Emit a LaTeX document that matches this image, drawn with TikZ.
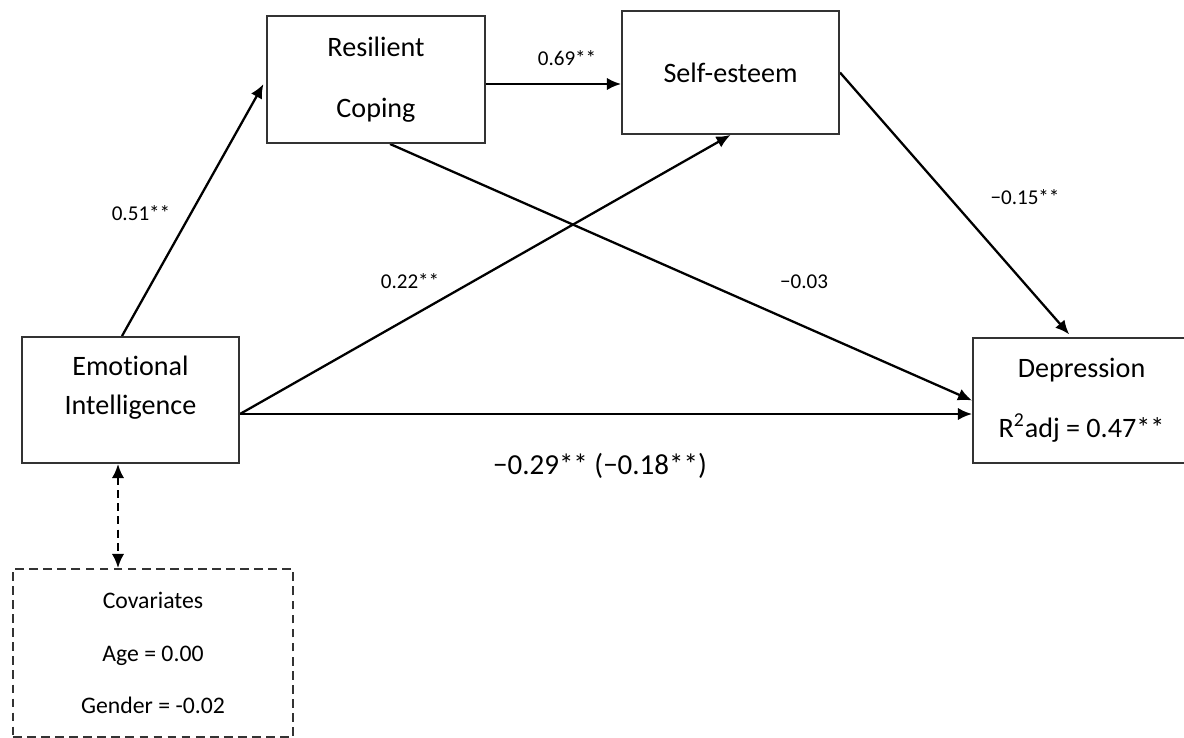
\documentclass[tikz,border=0pt]{standalone}
\usepackage{fontspec}
\setmainfont{Carlito}[Ligatures=NoCommon]
\usepackage{tikz}
\usetikzlibrary{arrows.meta,backgrounds}
\pgfdeclarelayer{edgelayer}
\pgfdeclarelayer{nodelayer}
\pgfsetlayers{edgelayer,nodelayer,main}
\tikzstyle{none}=[inner sep=0pt]
\tikzstyle{varbox}=[rectangle,draw=black!80,line width=1.1pt,align=center,font=\fontsize{16}{19}\selectfont]
\tikzstyle{covbox}=[rectangle,draw=black!80,line width=1.1pt,dash pattern=on 5pt off 3pt,align=center,font=\fontsize{13.5}{16}\selectfont]
\tikzstyle{coef}=[inner sep=0pt,font=\fontsize{12}{14}\selectfont]
\tikzstyle{bigcoef}=[inner sep=0pt,font=\fontsize{16.5}{19}\selectfont]
\tikzstyle{inarrow}=[->, >={Latex[length=8pt,width=7pt]}, line width=1.3pt]
\tikzstyle{covarrow}=[<->, >={Latex[length=8pt,width=7pt]}, line width=1.3pt, dash pattern=on 4.5pt off 3pt]

\begin{document}
\begin{tikzpicture}
	\useasboundingbox (0, 0) rectangle (23.68, -14.76);
	\begin{pgfonlayer}{nodelayer}
		\node [style=varbox, minimum width=4.34cm, minimum height=2.52cm, text depth=17pt] (0) at (2.61, -8.00) {Emotional\\[3pt]Intelligence};
		\node [style=varbox, minimum width=4.36cm, minimum height=2.54cm] (1) at (7.52, -1.59) {Resilient\\[16pt]Coping};
		\node [style=varbox, minimum width=4.34cm, minimum height=2.46cm] (2) at (14.61, -1.45) {Self-esteem};
		\node [style=varbox, minimum width=4.34cm, minimum height=2.50cm] (3) at (21.63, -8.01) {Depression\\[15pt]R\textsuperscript{2}adj = 0.47**};
		\node [style=covbox, minimum width=5.60cm, minimum height=3.36cm] (4) at (3.06, -13.06) {Covariates\\[14pt]Age = 0.00\\[14pt]Gender = -0.02};
		\node [style=coef] (5) at (11.34, -1.16) {0.69**};
		\node [style=coef] (6) at (2.82, -4.26) {0.51**};
		\node [style=coef] (7) at (8.20, -5.62) {0.22**};
		\node [style=coef] (8) at (16.08, -5.64) {−0.03};
		\node [style=coef] (9) at (20.50, -3.94) {−0.15**};
		\node [style=bigcoef] (10) at (12.00, -9.32) {−0.29** (−0.18**)};
	\end{pgfonlayer}
	\begin{pgfonlayer}{edgelayer}
		\draw [style=inarrow, shorten >=3pt] ([xshift=-0.17cm]0.north) to (1.west);
		\draw [style=inarrow] ([yshift=-0.09cm]1.east) to ([yshift=-0.09cm]1.east -| 2.west);
		\draw [style=inarrow] ([yshift=-0.28cm]0.east) to (2.south);
		\draw [style=inarrow] ([yshift=-0.28cm]0.east) to ([yshift=-0.28cm]0.east -| 3.west);
		\draw [style=inarrow] ([xshift=0.28cm]1.south) to (3.west);
		\draw [style=inarrow, shorten >=2pt] (2.east) to ([xshift=-0.2cm]3.north);
		\draw [style=covarrow] ([xshift=-0.25cm]0.south) to ([xshift=-0.25cm]0.south |- 4.north);
	\end{pgfonlayer}
\end{tikzpicture}
\end{document}
